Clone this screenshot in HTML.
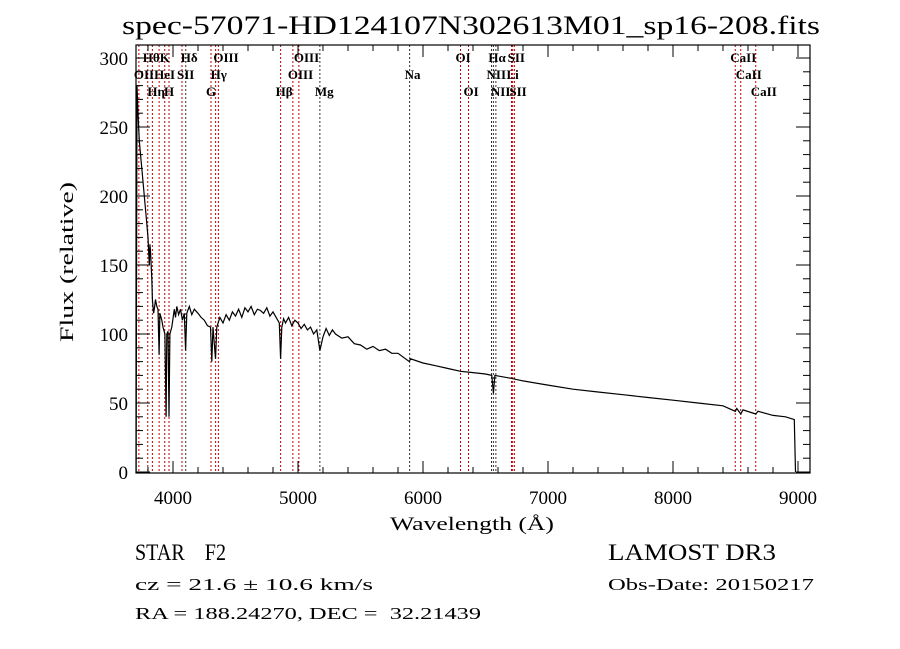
<!DOCTYPE html>
<html><head><meta charset="utf-8"><style>
html,body{margin:0;padding:0;background:#fff;}
svg{display:block;}
text{font-family:"Liberation Serif",serif;fill:#000;}
</style></head><body>
<svg id="chart" width="900" height="649" xmlns="http://www.w3.org/2000/svg">
<text x="122" y="34" font-size="26" textLength="698" lengthAdjust="spacingAndGlyphs">spec-57071-HD124107N302613M01_sp16-208.fits</text>
<g id="lines"></g>
<g id="labels"></g>
<path id="spec" fill="none" stroke="#000" stroke-width="1.2"/>
<rect x="136" y="45" width="674" height="428" fill="none" stroke="#000" stroke-width="1.2"/>
<g id="axes"></g>
<text x="390" y="530" font-size="19" textLength="164" lengthAdjust="spacingAndGlyphs" font-family="Liberation Mono, monospace">Wavelength (Å)</text>
<text transform="translate(73,342) rotate(-90)" font-size="19" textLength="160" lengthAdjust="spacingAndGlyphs" font-family="Liberation Mono, monospace">Flux (relative)</text>
<text x="135" y="560" font-size="23" textLength="91" lengthAdjust="spacingAndGlyphs">STAR&#160;&#160;&#160;&#160;F2</text>
<text x="135" y="590" font-size="17" textLength="238" lengthAdjust="spacingAndGlyphs">cz = 21.6 ± 10.6 km/s</text>
<text x="135" y="619" font-size="17" textLength="346" lengthAdjust="spacingAndGlyphs">RA = 188.24270, DEC =&#160;&#160;32.21439</text>
<text x="608" y="560" font-size="23" textLength="168" lengthAdjust="spacingAndGlyphs">LAMOST DR3</text>
<text x="608" y="590" font-size="17" textLength="206" lengthAdjust="spacingAndGlyphs">Obs-Date: 20150217</text>
</svg>
<script>
const wave=[3700,3705,3708,3712,3720,3730,3750,3770,3790,3800,3810,3815,3820,3830,3835,3840,3845,3850,3860,3870,3880,3889,3895,3910,3920,3935,3945,3950,3960,3968,3975,3990,4010,4020,4030,4045,4060,4075,4090,4101,4110,4130,4150,4170,4200,4225,4250,4275,4300,4310,4320,4340,4350,4375,4400,4425,4450,4475,4500,4525,4550,4575,4600,4625,4650,4675,4700,4725,4750,4775,4800,4850,4861,4870,4885,4900,4925,4950,4975,5000,5025,5050,5075,5100,5125,5150,5175,5200,5225,5250,5275,5300,5350,5400,5450,5500,5550,5600,5650,5700,5750,5800,5890,5900,6000,6100,6200,6300,6400,6500,6550,6563,6575,6700,6800,7000,7200,7400,7600,7800,8000,8200,8400,8498,8510,8542,8560,8662,8680,8800,8900,8970,8980];
const flux=[0,0,130,280,260,240,220,200,180,170,150,165,160,140,125,120,115,118,125,120,118,85,115,110,105,100,40,100,102,40,100,105,118,112,120,114,118,110,115,88,115,120,114,118,115,112,110,106,105,80,105,82,105,112,108,114,110,116,113,118,112,119,116,120,114,118,117,115,119,113,116,108,82,105,111,108,112,106,110,108,104,107,103,105,100,103,88,98,104,99,103,100,97,98,93,92,89,91,88,89,86,86,80,82,79,77,75,73,72,71,70,57,70,68,66,63,60,58,56,54,52,50,48,44,46,42,45,42,44,41,40,38,0];
const lineWaves=[3727,3798,3835,3889,3934,3968,4072,4102,4304,4341,4363,4861,4959,5007,5175,5893,6300,6364,6548,6563,6583,6708,6717,6731,8498,8542,8662];
const lineRed=[1,1,1,1,1,1,1,0,1,1,1,1,1,1,0,0,1,1,0,0,0,1,1,1,1,1,1];
const labelText=["OII","Hθ","Hη","HeI","K","H","SII","Hδ","G","Hγ","OIII","Hβ","OIII","OIII","Mg","Na","OI","OI","NII","Hα","NII","Li","SII","SII","CaII","CaII","CaII"];
const labelRow=[1,0,2,1,0,2,1,0,2,1,0,2,1,0,2,1,0,2,1,0,2,1,0,2,0,1,2];
const xTicks=[4000,5000,6000,7000,8000,9000];
const yTicks=[0,50,100,150,200,250,300];
const X=w=>173+(w-4000)*0.125;
const Y=f=>472-f*1.38;
const NS='http://www.w3.org/2000/svg';
function mk(t,parent){const e=document.createElementNS(NS,t);parent.appendChild(e);return e;}
let d='';
wave.forEach((w,i)=>{d+=(i?'L':'M')+X(w).toFixed(1)+' '+Math.min(473,Y(flux[i])).toFixed(1);});
document.getElementById('spec').setAttribute('d',d);
const lg=document.getElementById('lines'),lb=document.getElementById('labels');
lineWaves.forEach((w,i)=>{
 const l=mk('line',lg);
 
 
 l.setAttribute('x1',X(w));l.setAttribute('x2',X(w));l.setAttribute('y1',45);l.setAttribute('y2',473);
 l.setAttribute('stroke',lineRed[i]?'#c00000':'#333');l.setAttribute('stroke-width','1');l.setAttribute('stroke-dasharray','2,2');
 const t=mk('text',lb);
 
 
 t.setAttribute('x',X(w)-5);t.setAttribute('y',62+labelRow[i]*17);t.setAttribute('font-size','13');t.setAttribute('font-weight','bold');
 t.textContent=labelText[i];
});
const ax=document.getElementById('axes');
for(let w=3800;w<=9000;w+=200){const big=w%1000===0;
 [[473,473-(big?12:6)],[45,45+(big?12:6)]].forEach(p=>{const l=mk('line',ax);
 
 
 l.setAttribute('x1',X(w));l.setAttribute('x2',X(w));l.setAttribute('y1',p[0]);l.setAttribute('y2',p[1]);l.setAttribute('stroke','#000');});}
xTicks.forEach(w=>{const t=mk('text',ax);
 
 
 t.setAttribute('x',X(w));t.setAttribute('y',504);t.setAttribute('font-size','19');t.setAttribute('text-anchor','middle');t.setAttribute('font-family','Liberation Sans, sans-serif');t.textContent=w;});
for(let f=0;f<=300;f+=10){const big=f%50===0;
 [[136,136+(big?14:7)],[810,810-(big?14:7)]].forEach(p=>{const l=mk('line',ax);
 
 
 l.setAttribute('y1',Y(f));l.setAttribute('y2',Y(f));l.setAttribute('x1',p[0]);l.setAttribute('x2',p[1]);l.setAttribute('stroke','#000');});}
yTicks.forEach(f=>{const t=mk('text',ax);
 
 
 t.setAttribute('x',128);t.setAttribute('y',Y(f)+7);t.setAttribute('font-size','19');t.setAttribute('text-anchor','end');t.setAttribute('font-family','Liberation Sans, sans-serif');t.textContent=f;});
</script>
</body></html>
